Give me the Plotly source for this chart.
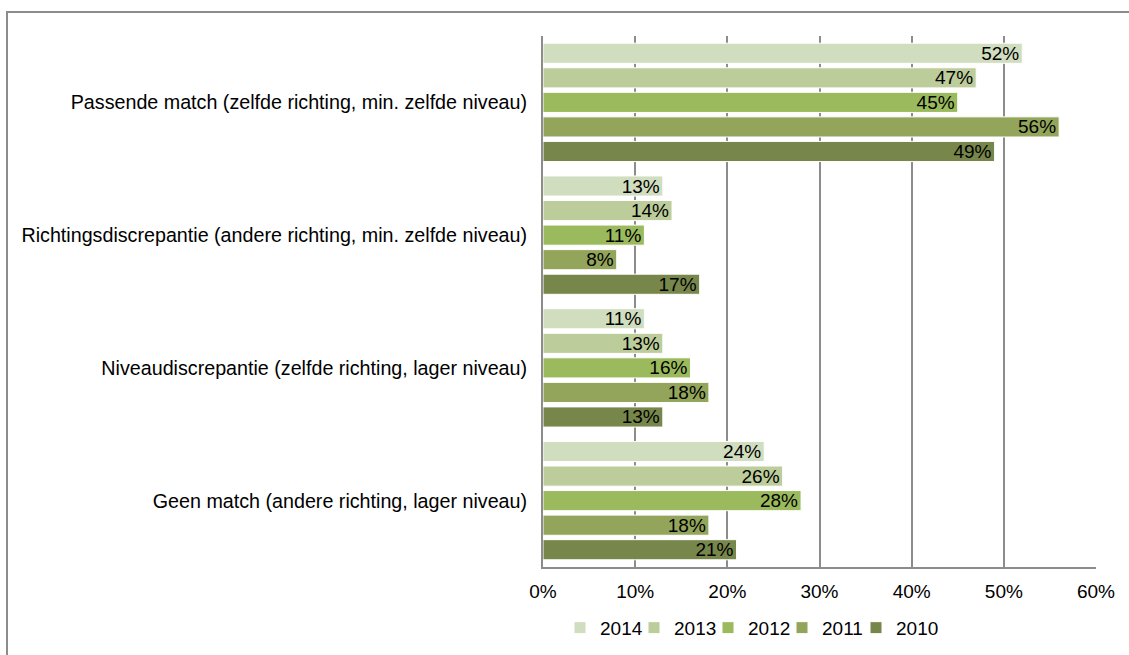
import plotly.graph_objects as go

categories = [
    "Passende match (zelfde richting, min. zelfde niveau)",
    "Richtingsdiscrepantie (andere richting, min. zelfde niveau)",
    "Niveaudiscrepantie (zelfde richting, lager niveau)",
    "Geen match (andere richting, lager niveau)",
]
years = ["2014", "2013", "2012", "2011", "2010"]
values = {
    "2014": [52, 13, 11, 24],
    "2013": [47, 14, 13, 26],
    "2012": [45, 11, 16, 28],
    "2011": [56, 8, 18, 18],
    "2010": [49, 17, 13, 21],
}
colors = {
    "2014": "#D0DDBF",
    "2013": "#BCCC9A",
    "2012": "#9BBA5D",
    "2011": "#93A55A",
    "2010": "#77864A",
}
x_ticks = [0, 10, 20, 30, 40, 50, 60]

FS = 19
fig = go.Figure()
for yr in years:
    fig.add_trace(go.Bar(
        y=categories, x=values[yr], name=yr, orientation="h",
        marker=dict(color=colors[yr], line=dict(color="white", width=1)),
        text=[f"{v}%" for v in values[yr]],
        textposition="inside", insidetextanchor="end",
        constraintext="none",
        textfont=dict(family="Liberation Sans, Arial", size=FS, color="black"),
        cliponaxis=False,
    ))

L, R, T, B = 543, 33, 36, 88
W, H = 1129, 655
pw, ph = W - L - R, H - T - B

fig.update_layout(
    width=W, height=H,
    barmode="group", bargap=0.075, bargroupgap=0.18,
    plot_bgcolor="white", paper_bgcolor="white",
    margin=dict(l=L, r=R, t=T, b=B, pad=0, autoexpand=False),
    font=dict(family="Liberation Sans, Arial", size=FS, color="black"),
    xaxis=dict(range=[0, 60], tickvals=x_ticks, ticktext=[f"{t}%" for t in x_ticks],
               showgrid=True, gridcolor="#8C8C8C", gridwidth=1.5,
               showline=True, linecolor="#8C8C8C", linewidth=2,
               zeroline=False, ticks="", ticklen=0, tickfont=dict(size=FS),
               ticklabelstandoff=6),
    yaxis=dict(autorange="reversed", showline=True, linecolor="#8C8C8C", linewidth=2,
               ticks="", showgrid=False, tickfont=dict(size=19.7), ticklabelstandoff=10),
    legend=dict(orientation="h", x=(560 - L) / pw, xanchor="left",
                y=(H - B - 627) / ph, yanchor="middle",
                font=dict(size=FS), traceorder="normal", itemwidth=30,
                entrywidth=29, entrywidthmode="pixels",
                title=dict(text="M" * 500, side="top",
                           font=dict(size=1, color="rgba(255,255,255,0)")),
                bgcolor="rgba(0,0,0,0)"),
    showlegend=True,
    shapes=[dict(type="rect", xref="paper", yref="paper",
                 x0=(7 - L) / pw, x1=2, y0=-1, y1=1 + (T - 12) / ph,
                 line=dict(color="#8C8C8C", width=2), layer="below")],
)

fig.write_html("out.html", config={"displayModeBar": False},
               post_script="document.body.style.margin='0';")
